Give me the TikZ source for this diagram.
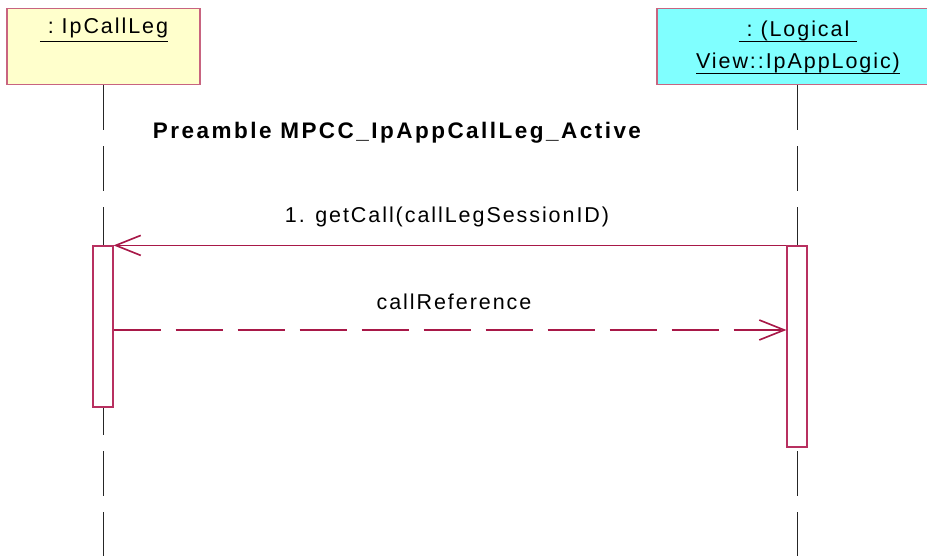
\documentclass[tikz,border=0pt]{standalone}
\usepackage{fontspec}
\setmainfont{Liberation Sans}[LetterSpace=9]
\newfontfamily\ttlfont{Liberation Sans}[LetterSpace=11]
\usetikzlibrary{arrows.meta}
\definecolor{boxedge}{RGB}{200,100,128}
\definecolor{msg}{RGB}{168,24,72}
\definecolor{actedge}{RGB}{184,48,96}
\definecolor{yel}{RGB}{255,255,204}
\definecolor{cyn}{RGB}{128,255,255}
\newcommand\myul[2]{\setbox0=\hbox{#2}\rlap{\rule[-#1]{\wd0}{1.3pt}}\box0}
\tikzset{
  objbox/.style={draw=boxedge, line width=1.3pt, inner sep=0pt},
  actbox/.style={draw=actedge, fill=white, line width=1.2pt, inner sep=0pt, minimum width=20pt},
  lifeline/.style={draw=black!85, line width=1pt, dash pattern=on 45pt off 16pt},
  msgline/.style={draw=msg, line width=1.3pt, -{Straight Barb[length=25pt,width=20pt,line width=1.6pt]}},
  lbl/.style={inner sep=0pt, anchor=base, font=\fontsize{21.5}{25}\selectfont},
  ttl/.style={inner sep=0pt, anchor=base, font=\ttlfont\fontsize{22.5}{26}\selectfont\bfseries}
}
\begin{document}
\begin{tikzpicture}[x=1pt,y=-1pt]
\useasboundingbox (0,0) rectangle (927,556);
\clip (0,0) rectangle (927,556);
% object boxes
\node[objbox, fill=yel, minimum width=193pt, minimum height=76pt] (objA) at (103.5,46.5) {};
\node[objbox, fill=cyn, minimum width=280pt, minimum height=76pt] (objB) at (797,46.5) {};
\node[lbl] (labA) at (104,34) {\myul{8pt}{\ :\ IpCallLeg}};
\node[lbl] (labB1) at (798,37) {\myul{5.5pt}{\ :\ (Logical\ }};
\node[lbl] (labB2) at (798,69) {\myul{5.5pt}{View::IpAppLogic)}};
% lifelines
\coordinate (endA) at (103.5,560);
\coordinate (endB) at (797,560);
\draw[lifeline] (objA.south) -- (endA);
\draw[lifeline] (objB.south) -- (endB);
% activations
\node[actbox, minimum height=161pt] (actA) at (103,326.5) {};
\node[actbox, minimum height=201pt] (actB) at (797,346.5) {};
% title
\node[ttl] (title) at (397,139) {Preamble MPCC\_IpAppCallLeg\_Active};
% messages
\coordinate (retY) at (0,330);
\draw[msgline] (actB.north west) -- (actA.north east);
\node[lbl] (m1) at (447,223) {1. getCall(callLegSessionID)};
\draw[msgline, dash pattern=on 47pt off 15pt] (actA.east |- retY) -- (actB.west |- retY);
\node[lbl] (m2) at (454,309) {callReference};
\end{tikzpicture}
\end{document}
